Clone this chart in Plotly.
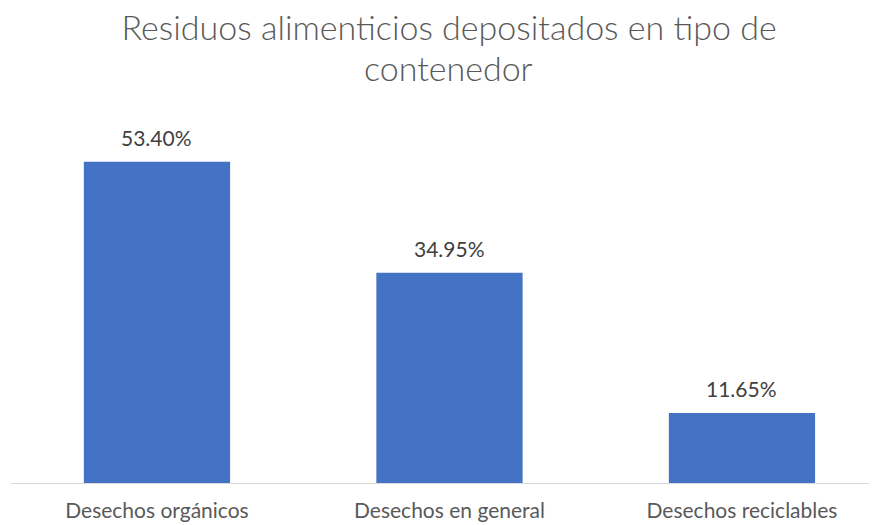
import plotly.graph_objects as go

categories = ["Desechos orgánicos", "Desechos en general", "Desechos reciclables"]
values = [53.40, 34.95, 11.65]
labels = ["53.40%", "34.95%", "11.65%"]
title_lines = ["Residuos alimenticios depositados en tipo de", "contenedor"]

title_font = dict(family="Lato", size=34, color="#595959", weight=300)

fig = go.Figure(
    go.Bar(
        x=categories,
        y=values,
        width=0.5,
        marker=dict(color="#4472C4", line=dict(width=0)),
        cliponaxis=False,
    )
)

# value labels above the bars
for cat, val, lab in zip(categories, values, labels):
    fig.add_annotation(
        x=cat,
        y=val,
        text=lab,
        showarrow=False,
        yanchor="bottom",
        yshift=10,
        font=dict(family="Lato", size=21, color="#404040"),
    )

# second title line, placed separately for tighter line spacing
fig.add_annotation(
    xref="paper",
    yref="paper",
    x=0.501,
    y=1.152,
    text=title_lines[1],
    showarrow=False,
    xanchor="center",
    yanchor="middle",
    font=title_font,
)

fig.update_layout(
    width=877,
    height=525,
    margin=dict(l=3, r=0, t=114, b=50),
    paper_bgcolor="white",
    plot_bgcolor="white",
    showlegend=False,
    title=dict(
        text=title_lines[0],
        xref="container",
        x=0.503,
        xanchor="center",
        yref="container",
        y=0.962,
        yanchor="middle",
        font=title_font,
    ),
    font=dict(family="Lato", color="#595959"),
)
fig.update_xaxes(
    range=[-0.499, 2.489],
    showline=True,
    linecolor="#D9D9D9",
    linewidth=1,
    showgrid=False,
    ticks="outside",
    ticklen=9,
    tickcolor="rgba(0,0,0,0)",
    tickfont=dict(family="Lato", size=21, color="#595959"),
)
fig.update_yaxes(range=[0, 60], visible=False, showgrid=False)

fig.write_html("out.html")
